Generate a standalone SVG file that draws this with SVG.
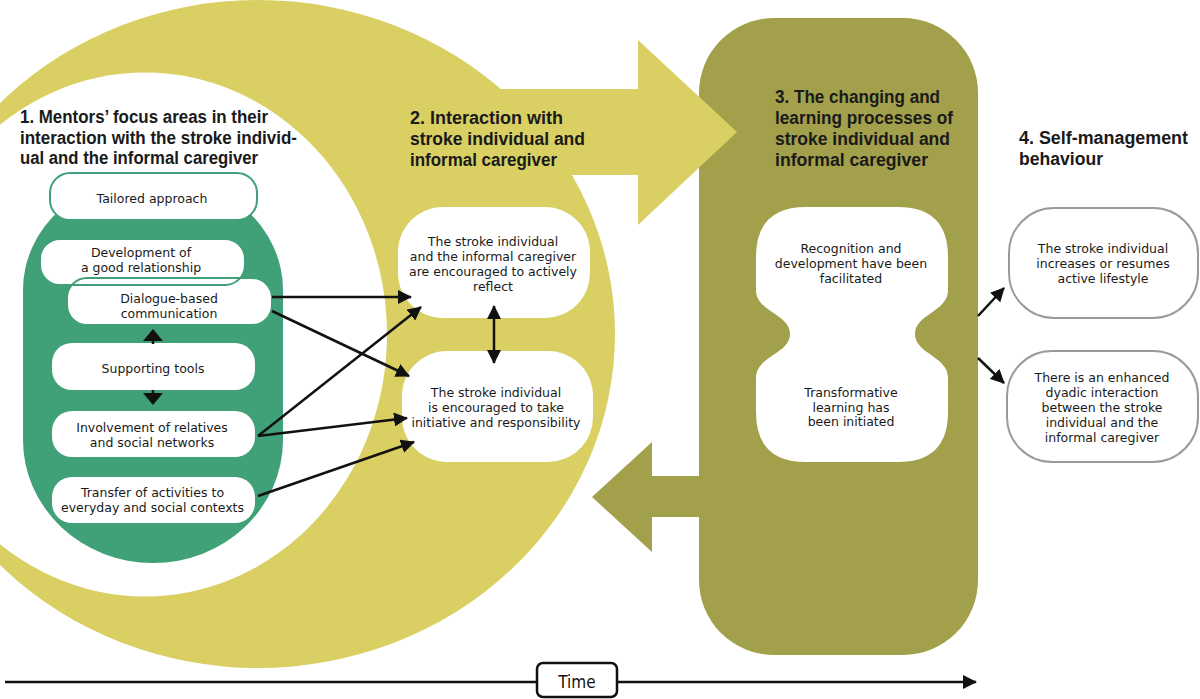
<svg xmlns="http://www.w3.org/2000/svg" width="1200" height="699" viewBox="0 0 1200 699">
<defs>
<style>
.yel{fill:#d9cf63}
.olv{fill:#a3a04b}
.grn{fill:#40a077}
.gbox{fill:#fff;stroke:#40a077;stroke-width:2}
.gline{fill:none;stroke:#40a077;stroke-width:2}
.wbox{fill:#fff}
.cbox{fill:#fff;stroke:#9a9a9a;stroke-width:2}
.ttl{font-family:"Liberation Sans",Arial,sans-serif;font-weight:bold;font-size:17.5px;fill:#1a1a1a}
.txt{font-family:"DejaVu Sans",Verdana,sans-serif;font-size:12.5px;fill:#1a1a1a;text-anchor:middle}
.con{fill:none;stroke:#111;stroke-width:2.5}
</style>
<marker id="ah" markerUnits="userSpaceOnUse" markerWidth="14" markerHeight="14" viewBox="0 0 14 14" refX="13" refY="7" orient="auto-start-reverse">
<path d="M0,0 L14,7 L0,14 Z" fill="#111"/>
</marker>
</defs>
<rect width="1200" height="699" fill="#fff"/>

<g id="olive-process">
<rect class="olv" x="699" y="18" width="279" height="637" rx="75" ry="75"/>
<polygon class="olv" points="700,476 652,476 652,442 592,497 652,552 652,517 700,517"/>
</g>

<g id="crescent">
<ellipse class="yel" cx="258" cy="334" rx="357" ry="334"/>
<polygon class="yel" points="480,89 638,89 638,40 737,132 638,225 638,175 560,175"/>
<ellipse cx="145" cy="334.5" rx="242" ry="262" fill="#fff"/>
</g>

<g id="title1">
<text class="ttl" x="20" y="123" textLength="248" lengthAdjust="spacingAndGlyphs">1. Mentors’ focus areas in their</text>
<text class="ttl" x="20" y="143.5" textLength="277" lengthAdjust="spacingAndGlyphs">interaction with the stroke individ-</text>
<text class="ttl" x="20" y="164" textLength="238" lengthAdjust="spacingAndGlyphs">ual and the informal caregiver</text>
</g>

<g id="title2">
<text class="ttl" x="410" y="124" textLength="153" lengthAdjust="spacingAndGlyphs">2. Interaction with</text>
<text class="ttl" x="410" y="145" textLength="175" lengthAdjust="spacingAndGlyphs">stroke individual and</text>
<text class="ttl" x="410" y="165.5" textLength="147" lengthAdjust="spacingAndGlyphs">informal caregiver</text>
</g>

<g id="title3">
<text class="ttl" x="775" y="103" textLength="165" lengthAdjust="spacingAndGlyphs">3. The changing and</text>
<text class="ttl" x="775" y="124" textLength="178" lengthAdjust="spacingAndGlyphs">learning processes of</text>
<text class="ttl" x="775" y="145" textLength="175" lengthAdjust="spacingAndGlyphs">stroke individual and</text>
<text class="ttl" x="775" y="166" textLength="153" lengthAdjust="spacingAndGlyphs">informal caregiver</text>
</g>

<g id="title4">
<text class="ttl" x="1019" y="144" textLength="169" lengthAdjust="spacingAndGlyphs">4. Self-management</text>
<text class="ttl" x="1019" y="165" textLength="84" lengthAdjust="spacingAndGlyphs">behaviour</text>
</g>

<g id="focus-column">
<path class="grn" d="M23,290 A130,115 0 0 1 283,290 V440 A130,123 0 0 1 23,440 Z"/>
</g>

<g id="tailored-approach">
<rect class="gbox" x="50" y="173" width="207" height="47" rx="20"/>
<text class="txt" x="152" y="203">Tailored approach</text>
</g>

<g id="good-relationship">
<rect class="wbox" x="40" y="239" width="205" height="46" rx="20"/>
</g>
<g id="dialogue-communication">
<rect class="wbox" x="67" y="278" width="205" height="47" rx="20"/>
<rect class="gline" x="40" y="239" width="205" height="46" rx="20"/>
<rect class="gline" x="67" y="278" width="205" height="47" rx="20"/>
<text class="txt" x="141" y="256.5">Development of</text>
<text class="txt" x="141" y="271.5">a good relationship</text>
<text class="txt" x="169" y="302.5">Dialogue-based</text>
<text class="txt" x="169" y="317.5">communication</text>
</g>

<g id="supporting-tools">
<rect class="wbox" x="52" y="343" width="203" height="47" rx="20"/>
<text class="txt" x="153" y="372.5">Supporting tools</text>
</g>

<g id="involvement">
<rect class="wbox" x="52" y="411" width="203" height="46" rx="20"/>
<text class="txt" x="152" y="431.5">Involvement of relatives</text>
<text class="txt" x="152" y="446.5">and social networks</text>
</g>

<g id="transfer">
<rect class="wbox" x="52" y="477" width="203" height="46" rx="20"/>
<text class="txt" x="152.5" y="496.5">Transfer of activities to</text>
<text class="txt" x="152.5" y="511.5">everyday and social contexts</text>
</g>

<g id="reflect">
<rect class="wbox" x="398" y="207" width="192" height="111" rx="45"/>
<text class="txt" x="493" y="245.5">The stroke individual</text>
<text class="txt" x="493" y="260.5">and the informal caregiver</text>
<text class="txt" x="493" y="276">are encouraged to actively</text>
<text class="txt" x="493" y="291">reflect</text>
</g>

<g id="initiative">
<rect class="wbox" x="402" y="351" width="191" height="111" rx="45"/>
<text class="txt" x="496" y="396.5">The stroke individual</text>
<text class="txt" x="496" y="411.5">is encouraged to take</text>
<text class="txt" x="496" y="426.5">initiative and responsibility</text>
</g>

<g id="learning">
<path class="wbox" d="M806,207 H898 Q948,207 948,257 V290 C948,312 915,314 915,334 C915,354 948,356 948,378 V412 Q948,462 898,462 H806 Q756,462 756,412 V378 C756,356 790,354 790,334 C790,314 756,312 756,290 V257 Q756,207 806,207 Z"/>
<text class="txt" x="851" y="252.5">Recognition and</text>
<text class="txt" x="851" y="267.5">development have been</text>
<text class="txt" x="851" y="282.5">facilitated</text>
<text class="txt" x="851" y="396.5">Transformative</text>
<text class="txt" x="851" y="411.5">learning has</text>
<text class="txt" x="851" y="426">been initiated</text>
</g>

<g id="active-lifestyle">
<rect class="cbox" x="1009" y="208" width="189" height="110" rx="45"/>
<text class="txt" x="1103" y="252.5">The stroke individual</text>
<text class="txt" x="1103" y="268">increases or resumes</text>
<text class="txt" x="1103" y="283">active lifestyle</text>
</g>

<g id="dyadic-interaction">
<rect class="cbox" x="1007" y="351" width="191" height="111" rx="45"/>
<text class="txt" x="1102" y="381.5">There is an enhanced</text>
<text class="txt" x="1102" y="396.5">dyadic interaction</text>
<text class="txt" x="1102" y="411.5">between the stroke</text>
<text class="txt" x="1102" y="426.5">individual and the</text>
<text class="txt" x="1102" y="441.5">informal caregiver</text>
</g>

<g id="connectors">
<polygon points="153,329 163,341 143,341" fill="#111"/>
<line x1="153" y1="338" x2="153" y2="344" stroke="#111" stroke-width="2.5"/>
<polygon points="143,393 163,393 153,405" fill="#111"/>
<line x1="153" y1="390" x2="153" y2="396" stroke="#111" stroke-width="2.5"/>
<line class="con" x1="272" y1="297" x2="411" y2="297" marker-end="url(#ah)"/>
<line class="con" x1="272" y1="311" x2="409" y2="376" marker-end="url(#ah)"/>
<line class="con" x1="258" y1="436" x2="421" y2="307" marker-end="url(#ah)"/>
<line class="con" x1="258" y1="436" x2="407" y2="418" marker-end="url(#ah)"/>
<line class="con" x1="258" y1="496" x2="414" y2="442" marker-end="url(#ah)"/>
<line class="con" x1="494" y1="306" x2="494" y2="363" marker-start="url(#ah)" marker-end="url(#ah)"/>
<line class="con" x1="978" y1="316" x2="1004" y2="288" marker-end="url(#ah)"/>
<line class="con" x1="978" y1="358" x2="1004" y2="383" marker-end="url(#ah)"/>
</g>

<g id="time-axis">
<line class="con" x1="5" y1="682" x2="976" y2="682" marker-end="url(#ah)"/>
<rect x="537" y="663" width="80" height="34" rx="6" fill="#fff" stroke="#111" stroke-width="2.5"/>
<text x="577" y="688" font-family="DejaVu Sans Condensed, DejaVu Sans, sans-serif" font-size="17" fill="#111" text-anchor="middle">Time</text>
</g>
</svg>
